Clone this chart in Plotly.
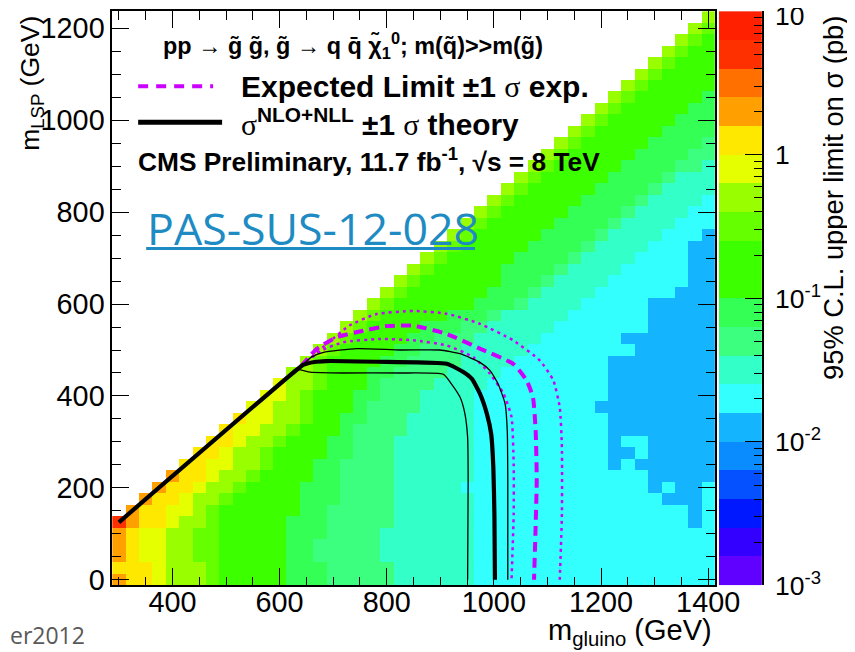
import numpy as np
import plotly.graph_objects as go

# ---------------- data ----------------
m_gluino = list(range(300, 1401, 25))   # bin centres, GeV (45 columns)
m_lsp = list(range(0, 1226, 25))        # bin centres, GeV (50 rows)

# colour band index (0..19, 5 bands per decade, 1e-3 .. 10 pb) read for each cell
band_code = {'B': 5, 'C': 6, 'A': 7, 'T': 8, 'M': 9, 'G': 10, 'L': 12,
             'H': 13, 'E': 14, 'Y': 15, 'O': 16, 'R': 18}
# run-length rows, bottom (m_LSP = 0) to top; '.' = no point
limit_rows = [
    "O 2Y E 3H L 5G 3M 5T 6A 18C",
    "3Y E 3H L 5G 3M 5T 6A 18C",
    "O Y 2E 2H 2L 5G 2M 5T 7A 18C",
    "O Y 2E 2H 2L 5G 2M 5T 7A 18C",
    "O Y 2E 2H 2L 5G 3M 4T 7A 18C",
    "R O 2Y E 2H L 5G 3M 5T 6A 16C B C",
    ". O 2Y 2E H L 6G 2M 5T 6A 16C B C",
    "2. O 2Y E 2H L 5G 3M 4T 6A 14C 3B C",
    "3. O 2Y E 2H L 4G 3M 4T 5A 14C B C 2B C",
    "4. O 2Y E 2H L 4G 2M 4T 6A 13C 5B",
    "5. 2Y 2E 2H L 3G 2M 4T 6A 10C B C 6B",
    "6. 2Y E 2H L 4G 2M 3T 6A 10C 2B C 5B",
    "7. 2Y E 2H L 3G 2M 3T 6A 10C B 2C 5B",
    "8. Y 2E 2H L 3G M 4T 5A 10C 8B",
    "9. Y 2E 2H L 2G 2M 3T 5A 10C 8B",
    "10. 2E 2H L 3G M 4T 4A 9C 9B",
    "11. 2E H L 3G 2M 3T 4A 10C 8B",
    "12. E 2H L 3G M 4T 4A 9C 8B",
    "13. 2H L 3G 2M 4T 4A 8C 8B",
    "14. H L 4G 2M 4T 4A 7C 8B",
    "15. H L 4G 2M 3T 5A 8C 6B",
    "16. H L 4G 2M 3T 5A 6C 7B",
    "17. H L 4G 3M 2T 5A 7C 5B",
    "18. H L 5G 3M T 5A 6C 5B",
    "19. H L 6G 3M T 4A 5C 5B",
    "20. H L 6G 3M T 4A 6C 3B",
    "21. H L 6G 3M T 4A 6C 2B",
    "22. H L 5G 4M T 4A 5C 2B",
    "23. H L 5G 4M T 4A 4C 2B",
    "24. H L 5G 4M T 4A 3C 2B",
    "25. H L 5G 4M T 4A 3C B",
    "26. H L 5G 4M T 4A 3C",
    "27. H L 5G 4M T 4A 2C",
    "28. H L 5G 4M T 4A C",
    "29. H L 5G 4M T 4A",
    "30. H L 5G 4M T 3A",
    "31. H L 5G 4M 2T A",
    "32. H L 5G 4M 2T",
    "33. H L 5G 4M T",
    "34. H L 5G 4M",
    "35. H L 5G 3M",
    "36. H L 5G 2M",
    "37. H L 5G M",
    "38. H L 5G",
    "39. H L 4G",
    "40. H L 3G",
    "41. H L 2G",
    "42. H L G",
    "43. H L",
    "44. H",
]

band_colors = ['#6000ff', '#3300ff', '#0018ff', '#0550ff', '#0a8cff',
               '#14b4ff', '#33ffff', '#33ffc8', '#3cff80', '#33ff55',
               '#3cff00', '#3cff00', '#66ff00', '#99ff00', '#e5ff00',
               '#ffe800', '#ffa000', '#ff7000', '#ff3000', '#ff2000']

# observed limit (thick black) and theory +-1 sigma (thin black)
obs_x = [300, 632, 645, 665, 687, 800, 912, 943, 959, 974, 987, 995, 999, 1001, 1002]
obs_y = [125, 457, 468, 474, 476, 474, 470, 452, 437, 405, 361, 317, 245, 143, 0]
obs_up_x = [600, 641, 660, 682, 744, 825, 899, 937, 974, 993, 1008, 1021, 1025, 1026, 1026]
obs_up_y = [425, 466, 485, 495, 503, 500, 500, 492, 473, 455, 426, 383, 325, 216, 0]
obs_dn_x = [600, 632, 657, 719, 825, 906, 921, 937, 946, 951, 952, 951]
obs_dn_y = [425, 457, 452, 450, 450, 447, 426, 397, 361, 310, 216, 0]
# expected limit (thick magenta dashed) and +-1 sigma exp. (thin magenta dotted)
exp_x = [640, 670, 707, 756, 800, 850, 912, 974, 1036, 1061, 1073, 1078, 1080, 1075]
exp_y = [465, 503, 528, 542, 552, 553, 535, 503, 470, 434, 397, 325, 216, 0]
exp_up_x = [640, 660, 690, 730, 780, 850, 912, 974, 1036, 1086, 1111, 1123, 1127, 1127, 1123]
exp_up_y = [465, 485, 515, 553, 578, 585, 579, 557, 521, 477, 434, 375, 288, 143, 0]
exp_dn_x = [640, 680, 719, 787, 850, 912, 962, 993, 1018, 1033, 1037, 1037, 1033]
exp_dn_y = [465, 500, 517, 524, 521, 510, 484, 448, 405, 354, 252, 143, 0]

cb_tick_vals = [1e-3, 1e-2, 1e-1, 1, 10]
cb_tick_text = ['10<sup>-3</sup>', '10<sup>-2</sup>', '10<sup>-1</sup>', '1', '10']

# ---------------- build ----------------
# The photographed page area is a little larger than the window (about 880 x 663 css px
# squeezed into 855 x 652), so positions are given in picture pixels and converted.
SX, SY = 855 / 880.0, 652 / 663.0
OFF = 8                          # browser default body margin
W, H = 880 - 2 * OFF, 663 - 2 * OFF
def px(x):
    return (x / SX - OFF) / W
def py(y):
    return 1 - (y / SY - OFF) / H

NC = len(m_gluino)
def decode(s):
    out = []
    for tok in s.split():
        n = int(tok[:-1]) if len(tok) > 1 else 1
        out += [tok[-1]] * n
    return (out + ['.'] * NC)[:NC]

z = []
for s in limit_rows:
    row = []
    for ch in decode(s):
        if ch == '.':
            row.append(None)
        else:
            k = band_code[ch]
            row.append(-3 + (k + 0.5) / 5.0)   # log10 of the limit in pb
    z.append(row)

cs = []
for k, col in enumerate(band_colors):
    cs.append([k / 20.0, col])
    cs.append([(k + 1) / 20.0, col])

fig = go.Figure()
fig.add_trace(go.Heatmap(x=m_gluino, y=m_lsp, z=z, zmin=-3, zmax=1,
                         colorscale=cs, showscale=False, hoverinfo='skip'))

def add_line(x, y, color, width, dash='solid'):
    fig.add_trace(go.Scatter(x=x, y=y, mode='lines', hoverinfo='skip',
                             line=dict(color=color, width=width, dash=dash,
                                       shape='spline', smoothing=0.5),
                             showlegend=False))

MAG = '#cc00ff'
add_line(exp_up_x, exp_up_y, MAG, 2.5, '3px,4px')
add_line(exp_dn_x, exp_dn_y, MAG, 2.5, '3px,4px')
add_line(exp_x, exp_y, MAG, 4, '10px,6px')
add_line(obs_up_x, obs_up_y, 'black', 1.3)
add_line(obs_dn_x, obs_dn_y, 'black', 1.3)
add_line(obs_x, obs_y, 'black', 4.2)

# colour bar drawn as its own small heatmap on a log10 axis
cb_y = [-3 + (k + 0.5) / 5.0 for k in range(20)]
fig.add_trace(go.Heatmap(x=[0], y=cb_y, z=[[v] for v in cb_y], zmin=-3, zmax=1,
                         colorscale=cs, showscale=False, hoverinfo='skip',
                         xaxis='x2', yaxis='y2'))

x_major = [400, 600, 800, 1000, 1200, 1400]
x_minor = [v for v in range(300, 1401, 50) if v not in x_major]
y_major = [0, 200, 400, 600, 800, 1000, 1200]
y_minor = [v for v in range(50, 1201, 50) if v not in y_major]
cb_minor = [np.log10(m * 10.0 ** e) for e in range(-3, 1) for m in range(2, 10)]

FONT = 'Liberation Sans'
TL, TLM = 17.5, 9
axcommon = dict(showgrid=False, zeroline=False, showline=True, linecolor='black',
                linewidth=1.5, mirror='ticks', ticks='inside', ticklen=TL,
                tickwidth=1.3, tickcolor='black',
                tickfont=dict(family=FONT, size=28.8, color='black'))
minor_common = dict(tickmode='array', ticklen=TLM, ticks='inside',
                    tickcolor='black', tickwidth=1.3)

fig.update_layout(
    width=W, height=H, margin=dict(l=0, r=0, t=0, b=0),
    paper_bgcolor='white', plot_bgcolor='white', showlegend=False,
    xaxis=dict(domain=[px(112), px(715)], range=[287.5, 1412.5],
               tickmode='array', tickvals=x_major, ticktext=[str(v) for v in x_major],
               minor=dict(tickvals=x_minor, **minor_common),
               ticklabelstandoff=-10, **axcommon),
    yaxis=dict(domain=[py(584.7), py(11)], range=[-12.5, 1237.5],
               tickmode='array', tickvals=y_major, ticktext=[str(v) for v in y_major],
               minor=dict(tickvals=y_minor, **minor_common),
               ticklabelstandoff=0, **axcommon),
    xaxis2=dict(domain=[px(719), px(762.5)], range=[-0.5, 0.5], showticklabels=False,
                showgrid=False, zeroline=False, showline=False, ticks=''),
    yaxis2=dict(domain=[py(584.7), py(11)], range=[-3, 1], anchor='x2', side='right',
                showgrid=False, zeroline=False, showline=True, linecolor='black',
                linewidth=1.5, ticks='inside', ticklen=TL, tickwidth=1.3, tickcolor='black',
                tickmode='array', tickvals=[np.log10(v) for v in cb_tick_vals],
                showticklabels=False,
                minor=dict(tickvals=cb_minor, **minor_common)),
)

ann = []
def text(x, y, s, size, xanchor='left', yanchor='middle', color='black',
         family=FONT, angle=0):
    ann.append(dict(x=px(x), y=py(y), xref='paper', yref='paper', text=s,
                    showarrow=False, xanchor=xanchor, yanchor=yanchor,
                    textangle=angle, font=dict(family=family, size=size, color=color)))

# colour-bar tick labels, placed on the colour-bar's own log10 axis
for v, t in zip(cb_tick_vals, cb_tick_text):
    lv = np.log10(v)
    if lv >= 1:
        lv = 0.965
    elif '<sup>' in t:
        lv += 0.01
    ann.append(dict(x=px(773), xref='paper', y=lv, yref='y2', text=t, showarrow=False,
                    xanchor='left', yanchor='middle',
                    font=dict(family=FONT, size=26.5, color='black')))

SIG = '<span style="font-family:Liberation Serif">\u03c3</span>'
gt = 'g\u0303'
text(161, 45, '<b>pp \u2192 ' + gt + ' ' + gt + ', ' + gt + ' \u2192 q q\u0304 \u03c7\u0303'
     '<sub>1</sub><sup>0</sup>; m(q\u0303)&gt;&gt;m(' + gt + ')</b>', 23.4)
text(239, 86, '<b>Expected Limit \u00b11 </b>' + SIG + '<b> exp.</b>', 30)
text(239, 122, SIG + '<sup><b>NLO+NLL</b></sup><b> \u00b11 </b>' + SIG + '<b> theory</b>', 29.8)
text(136, 160, '<b>CMS Preliminary, 11.7 fb<sup>-1</sup>, \u221as = 8 TeV</b>', 26.3)
text(145, 227, 'PAS-SUS-12-028', 44.7, color='#1e8bc3', family='Open Sans')
text(8, 634, 'er2012', 23, xanchor='left', color='#595959', family='Open Sans')
text(31, 14, 'm<sub>LSP</sub> (GeV)', 26.5, xanchor='center', yanchor='top', angle=-90)
text(714, 631, 'm<sub>gluino</sub> (GeV)', 29, xanchor='right', yanchor='middle')
text(833, 14, '95% C.L. upper limit on \u03c3 (pb)', 27.3, xanchor='center', yanchor='top',
     angle=-90)

shapes = [
    dict(type='line', xref='paper', yref='paper', x0=px(138), x1=px(213), y0=py(86),
         y1=py(86), line=dict(color=MAG, width=4, dash='10px,8px')),
    dict(type='line', xref='paper', yref='paper', x0=px(138), x1=px(222), y0=py(122),
         y1=py(122), line=dict(color='black', width=5)),
    dict(type='line', xref='paper', yref='paper', x0=px(146), x1=px(475), y0=py(248),
         y1=py(248), line=dict(color='#1e8bc3', width=3)),
]
fig.update_layout(annotations=ann, shapes=shapes)

fig.write_html('out.html', config={'displayModeBar': False})
